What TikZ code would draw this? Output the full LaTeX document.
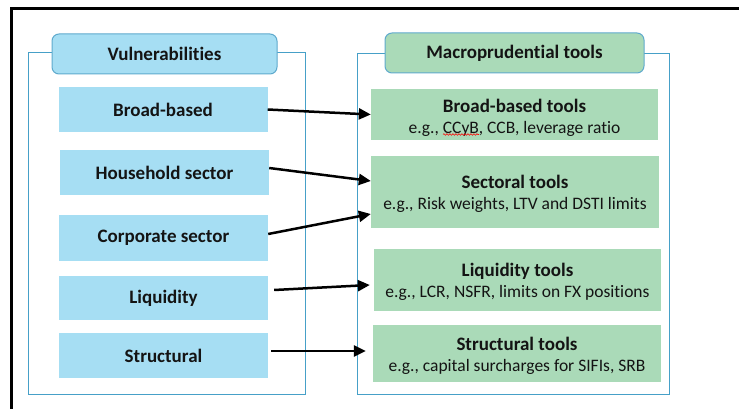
\documentclass[tikz,border=0pt]{standalone}
\usepackage{fontspec}
\setmainfont{Carlito}[Ligatures=NoCommon]
\usetikzlibrary{arrows.meta,decorations.pathmorphing}
\definecolor{vblue}{RGB}{166,222,243}
\definecolor{tgreen}{RGB}{170,218,184}
\definecolor{frameblue}{RGB}{70,160,200}
\definecolor{hdrborder}{RGB}{95,170,205}
\definecolor{txt}{RGB}{20,20,20}
\begin{document}
\begin{tikzpicture}[x=1pt,y=-1pt,
  container/.style={draw=frameblue,line width=1pt},
  hdr/.style={draw=hdrborder,line width=1pt,rounded corners=7pt,minimum height=40pt,inner sep=0pt,font=\fontsize{19}{21}\selectfont\bfseries,text=txt},
  vbox/.style={fill=vblue,minimum width=209pt,minimum height=45pt,inner sep=0pt,font=\fontsize{19}{21}\selectfont\bfseries,text=txt},
  tbox/.style={fill=tgreen,minimum width=287pt,inner sep=0pt},
  ttext/.style={inner sep=0pt,align=center,text=txt,font=\fontsize{17.5}{21}\selectfont},
  arr/.style={line width=2.5pt,-{Triangle[length=12pt,width=11pt]}}]
\useasboundingbox (0,0) rectangle (739,409);
\fill[white] (0,0) rectangle (739,409);
\draw[line width=3pt] (11.5,409) -- (11.5,8.5) -- (739,8.5);
% containers
\draw[container] (28,53) rectangle (305,394);
\draw[container] (357,54) rectangle (669,394);
% headers
\node[hdr,fill=vblue,minimum width=225pt] (hv) at (164.5,54) {Vulnerabilities};
\node[hdr,fill=tgreen,minimum width=259pt] (hm) at (514.5,53) {Macroprudential tools};
% vulnerabilities
\node[vbox] (b1) at (163,109.5) {Broad-based};
\node[vbox] (b2) at (164.5,172.5) {Household sector};
\node[vbox,minimum height=46pt] (b3) at (163.5,238) {Corporate sector};
\node[vbox,minimum height=44pt] (b4) at (163.5,298) {Liquidity};
\node[vbox] (b5) at (163.5,355.5) {Structural};
% tools
\node[tbox,minimum height=51pt] (t1) at (514.5,114.5) {};
\node[ttext] (t1l) at ([yshift=-3.5pt]t1.center) {{\fontsize{19}{21}\selectfont\bfseries Broad-based tools}\\e.g., CCyB, CCB, leverage ratio};
\node[tbox,minimum width=288pt,minimum height=72pt] (t2) at (515,192) {};
\node[ttext] (t2l) at ([yshift=-2pt]t2.center) {{\fontsize{19}{21}\selectfont\bfseries Sectoral tools}\\e.g., Risk weights, LTV and DSTI limits};
\node[tbox,minimum height=62pt] (t3) at (517.5,280) {};
\node[ttext] (t3l) at ([yshift=-2pt]t3.center) {{\fontsize{19}{21}\selectfont\bfseries Liquidity tools}\\e.g., LCR, NSFR, limits on FX positions};
\node[tbox,minimum width=288pt,minimum height=57pt] (t4) at (517,353.5) {};
\node[ttext] (t4l) at ([yshift=-2pt]t4.center) {{\fontsize{19}{21}\selectfont\bfseries Structural tools}\\e.g., capital surcharges for SIFIs, SRB};
% spell-check squiggle
\draw[red,line width=0.6pt,decorate,decoration={snake,amplitude=0.8pt,segment length=3pt}] (443,134.5) -- (479,134.5);
% arrows
\draw[arr] (b1.east) -- (t1.west);
\draw[arr] ([yshift=4.5pt]b2.east) -- ([yshift=11pt]t2.west);
\draw[arr] ([yshift=4pt]b3.east) -- ([yshift=-22pt]t2.west);
\draw[arr] ([xshift=6pt,yshift=8pt]b4.east) -- ([xshift=-4pt,yshift=-5pt]t3.west);
\draw[arr] ([xshift=3pt,yshift=4.5pt]b5.east) -- ([xshift=-7pt,yshift=2.5pt]t4.west);
\end{tikzpicture}
\end{document}
